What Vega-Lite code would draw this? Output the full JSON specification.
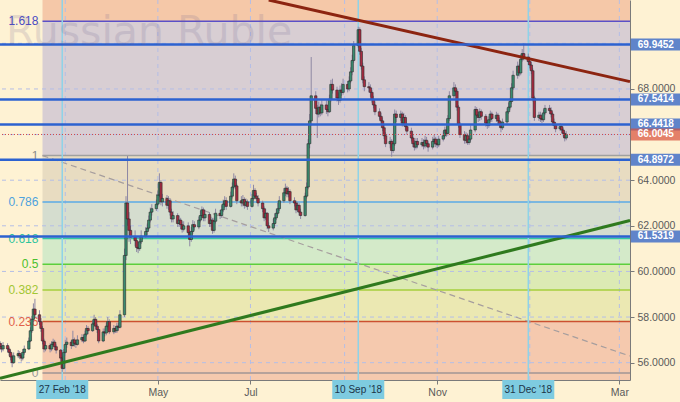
{
"$schema": "https://vega.github.io/schema/vega-lite/v6.json",
"width": 630, "height": 380,
"autosize": {"type": "none"},
"padding": {"left": 0, "top": 0, "right": 50, "bottom": 22},
"background": "#FEF2D3",
"config": {"view": {"stroke": null}, "font": "Liberation Sans", "axis": {"grid": false}},
"resolve": {"scale": {"color": "independent"}},
"datasets": {
"candles": [
{"d":"2018-01-17","o":56.85,"h":56.95,"l":56.55,"c":56.7},
{"d":"2018-01-18","o":56.7,"h":56.85,"l":56.45,"c":56.6},
{"d":"2018-01-19","o":56.6,"h":56.9,"l":56.5,"c":56.75},
{"d":"2018-01-22","o":56.75,"h":56.85,"l":56.45,"c":56.6},
{"d":"2018-01-23","o":56.6,"h":56.7,"l":56.3,"c":56.45},
{"d":"2018-01-24","o":56.45,"h":56.55,"l":56.1,"c":56.25},
{"d":"2018-01-25","o":56.25,"h":56.35,"l":55.8,"c":56.0},
{"d":"2018-01-26","o":56.0,"h":56.45,"l":55.95,"c":56.3},
{"d":"2018-01-29","o":56.3,"h":56.55,"l":56.2,"c":56.4},
{"d":"2018-01-30","o":56.4,"h":56.5,"l":56.15,"c":56.3},
{"d":"2018-01-31","o":56.3,"h":56.4,"l":56.05,"c":56.2},
{"d":"2018-02-01","o":56.2,"h":56.6,"l":56.1,"c":56.45},
{"d":"2018-02-02","o":56.45,"h":56.75,"l":56.35,"c":56.6},
{"d":"2018-02-05","o":56.6,"h":57.1,"l":56.55,"c":56.95},
{"d":"2018-02-06","o":56.95,"h":57.55,"l":56.9,"c":57.4},
{"d":"2018-02-07","o":57.4,"h":58.05,"l":57.3,"c":57.9},
{"d":"2018-02-08","o":57.9,"h":58.6,"l":57.8,"c":58.35},
{"d":"2018-02-09","o":58.35,"h":58.8,"l":57.95,"c":58.1},
{"d":"2018-02-12","o":58.1,"h":58.3,"l":57.65,"c":57.8},
{"d":"2018-02-13","o":57.8,"h":57.95,"l":57.35,"c":57.5},
{"d":"2018-02-14","o":57.5,"h":57.6,"l":56.8,"c":56.95},
{"d":"2018-02-15","o":56.95,"h":57.05,"l":56.45,"c":56.6},
{"d":"2018-02-16","o":56.6,"h":56.9,"l":56.5,"c":56.75},
{"d":"2018-02-19","o":56.75,"h":56.85,"l":56.45,"c":56.6},
{"d":"2018-02-20","o":56.6,"h":56.95,"l":56.5,"c":56.8},
{"d":"2018-02-21","o":56.8,"h":57.05,"l":56.7,"c":56.9},
{"d":"2018-02-22","o":56.9,"h":57.0,"l":56.55,"c":56.7},
{"d":"2018-02-23","o":56.7,"h":56.8,"l":56.4,"c":56.55},
{"d":"2018-02-26","o":56.55,"h":56.6,"l":56.05,"c":56.2},
{"d":"2018-02-27","o":56.2,"h":56.3,"l":55.6,"c":55.75},
{"d":"2018-02-28","o":55.75,"h":56.6,"l":55.7,"c":56.45},
{"d":"2018-03-01","o":56.45,"h":57.0,"l":56.4,"c":56.8},
{"d":"2018-03-02","o":56.8,"h":57.1,"l":56.65,"c":56.9},
{"d":"2018-03-05","o":56.9,"h":57.0,"l":56.6,"c":56.75},
{"d":"2018-03-06","o":56.75,"h":57.4,"l":56.7,"c":57.0},
{"d":"2018-03-07","o":57.0,"h":57.1,"l":56.7,"c":56.85},
{"d":"2018-03-08","o":56.85,"h":57.0,"l":56.65,"c":56.8},
{"d":"2018-03-09","o":56.8,"h":57.2,"l":56.75,"c":57.0},
{"d":"2018-03-12","o":57.0,"h":57.25,"l":56.9,"c":57.1},
{"d":"2018-03-13","o":57.1,"h":57.2,"l":56.85,"c":56.95},
{"d":"2018-03-14","o":56.95,"h":57.4,"l":56.9,"c":57.25},
{"d":"2018-03-15","o":57.25,"h":57.65,"l":57.15,"c":57.5},
{"d":"2018-03-16","o":57.5,"h":57.6,"l":57.25,"c":57.4},
{"d":"2018-03-19","o":57.4,"h":57.85,"l":57.35,"c":57.7},
{"d":"2018-03-20","o":57.7,"h":58.1,"l":57.6,"c":57.9},
{"d":"2018-03-21","o":57.9,"h":58.0,"l":57.45,"c":57.6},
{"d":"2018-03-22","o":57.6,"h":57.7,"l":57.3,"c":57.45},
{"d":"2018-03-23","o":57.45,"h":57.55,"l":56.85,"c":56.95},
{"d":"2018-03-26","o":56.95,"h":57.5,"l":56.9,"c":57.35},
{"d":"2018-03-27","o":57.35,"h":57.5,"l":57.15,"c":57.3},
{"d":"2018-03-28","o":57.3,"h":57.75,"l":57.2,"c":57.6},
{"d":"2018-03-29","o":57.6,"h":58.0,"l":57.5,"c":57.8},
{"d":"2018-03-30","o":57.8,"h":57.9,"l":57.25,"c":57.35},
{"d":"2018-04-02","o":57.35,"h":57.65,"l":57.25,"c":57.5},
{"d":"2018-04-03","o":57.5,"h":57.6,"l":57.3,"c":57.4},
{"d":"2018-04-04","o":57.4,"h":57.75,"l":57.3,"c":57.6},
{"d":"2018-04-05","o":57.6,"h":57.75,"l":57.4,"c":57.55},
{"d":"2018-04-06","o":57.55,"h":58.3,"l":57.5,"c":58.1},
{"d":"2018-04-09","o":58.1,"h":61.0,"l":58.0,"c":60.7},
{"d":"2018-04-10","o":60.7,"h":63.3,"l":60.5,"c":63.0},
{"d":"2018-04-11","o":63.0,"h":65.06,"l":62.0,"c":62.3},
{"d":"2018-04-12","o":62.3,"h":62.6,"l":61.3,"c":61.8},
{"d":"2018-04-13","o":61.8,"h":62.0,"l":61.2,"c":61.5},
{"d":"2018-04-16","o":61.5,"h":61.8,"l":61.1,"c":61.35},
{"d":"2018-04-17","o":61.35,"h":61.5,"l":60.85,"c":61.05},
{"d":"2018-04-18","o":61.05,"h":61.3,"l":60.8,"c":61.0},
{"d":"2018-04-19","o":61.0,"h":61.55,"l":60.9,"c":61.3},
{"d":"2018-04-20","o":61.3,"h":61.8,"l":61.2,"c":61.55},
{"d":"2018-04-23","o":61.55,"h":61.95,"l":61.45,"c":61.75},
{"d":"2018-04-24","o":61.75,"h":62.1,"l":61.6,"c":61.9},
{"d":"2018-04-25","o":61.9,"h":62.45,"l":61.8,"c":62.25},
{"d":"2018-04-26","o":62.25,"h":62.8,"l":62.15,"c":62.6},
{"d":"2018-04-27","o":62.6,"h":62.95,"l":62.45,"c":62.75},
{"d":"2018-04-30","o":62.75,"h":63.15,"l":62.65,"c":62.95},
{"d":"2018-05-01","o":62.95,"h":63.55,"l":62.85,"c":63.35},
{"d":"2018-05-02","o":63.35,"h":64.3,"l":63.25,"c":63.9},
{"d":"2018-05-03","o":63.9,"h":64.0,"l":62.9,"c":63.05},
{"d":"2018-05-04","o":63.05,"h":63.4,"l":62.85,"c":63.2},
{"d":"2018-05-07","o":63.2,"h":63.35,"l":62.75,"c":62.9},
{"d":"2018-05-08","o":62.9,"h":63.3,"l":62.7,"c":63.1},
{"d":"2018-05-09","o":63.1,"h":63.2,"l":62.45,"c":62.6},
{"d":"2018-05-10","o":62.6,"h":62.75,"l":62.15,"c":62.3},
{"d":"2018-05-11","o":62.3,"h":62.65,"l":62.15,"c":62.45},
{"d":"2018-05-14","o":62.45,"h":62.55,"l":61.95,"c":62.1},
{"d":"2018-05-15","o":62.1,"h":62.45,"l":61.95,"c":62.25},
{"d":"2018-05-16","o":62.25,"h":62.35,"l":61.85,"c":62.05},
{"d":"2018-05-17","o":62.05,"h":62.2,"l":61.7,"c":61.85},
{"d":"2018-05-18","o":61.85,"h":62.2,"l":61.75,"c":62.0},
{"d":"2018-05-21","o":62.0,"h":62.15,"l":61.55,"c":61.7},
{"d":"2018-05-22","o":61.7,"h":61.8,"l":61.1,"c":61.4},
{"d":"2018-05-23","o":61.4,"h":61.95,"l":61.3,"c":61.75},
{"d":"2018-05-24","o":61.75,"h":62.25,"l":61.65,"c":62.05},
{"d":"2018-05-25","o":62.05,"h":62.2,"l":61.8,"c":61.95},
{"d":"2018-05-28","o":61.95,"h":62.4,"l":61.85,"c":62.25},
{"d":"2018-05-29","o":62.25,"h":62.65,"l":62.15,"c":62.45},
{"d":"2018-05-30","o":62.45,"h":62.85,"l":62.35,"c":62.7},
{"d":"2018-05-31","o":62.7,"h":62.8,"l":62.2,"c":62.35},
{"d":"2018-06-01","o":62.35,"h":62.7,"l":62.2,"c":62.5},
{"d":"2018-06-04","o":62.5,"h":62.6,"l":61.95,"c":62.1},
{"d":"2018-06-05","o":62.1,"h":62.4,"l":61.95,"c":62.25},
{"d":"2018-06-06","o":62.25,"h":62.35,"l":61.65,"c":61.8},
{"d":"2018-06-07","o":61.8,"h":62.35,"l":61.7,"c":62.2},
{"d":"2018-06-08","o":62.2,"h":62.75,"l":62.1,"c":62.55},
{"d":"2018-06-11","o":62.55,"h":62.7,"l":62.3,"c":62.45},
{"d":"2018-06-12","o":62.45,"h":62.9,"l":62.35,"c":62.7},
{"d":"2018-06-13","o":62.7,"h":63.15,"l":62.6,"c":62.95},
{"d":"2018-06-14","o":62.95,"h":63.3,"l":62.8,"c":63.1},
{"d":"2018-06-15","o":63.1,"h":63.25,"l":62.7,"c":62.85},
{"d":"2018-06-18","o":62.85,"h":63.5,"l":62.8,"c":63.3},
{"d":"2018-06-19","o":63.3,"h":63.9,"l":63.2,"c":63.7},
{"d":"2018-06-20","o":63.7,"h":64.3,"l":63.6,"c":64.05},
{"d":"2018-06-21","o":64.05,"h":64.2,"l":63.6,"c":63.75},
{"d":"2018-06-22","o":63.75,"h":63.85,"l":62.95,"c":63.1},
{"d":"2018-06-25","o":63.1,"h":63.3,"l":62.85,"c":63.0},
{"d":"2018-06-26","o":63.0,"h":63.35,"l":62.85,"c":63.15},
{"d":"2018-06-27","o":63.15,"h":63.25,"l":62.75,"c":62.9},
{"d":"2018-06-28","o":62.9,"h":63.2,"l":62.8,"c":63.05},
{"d":"2018-06-29","o":63.05,"h":63.15,"l":62.7,"c":62.85},
{"d":"2018-07-02","o":62.85,"h":63.4,"l":62.8,"c":63.2},
{"d":"2018-07-03","o":63.2,"h":63.8,"l":63.1,"c":63.55},
{"d":"2018-07-04","o":63.55,"h":63.65,"l":63.15,"c":63.3},
{"d":"2018-07-05","o":63.3,"h":63.45,"l":63.05,"c":63.2},
{"d":"2018-07-06","o":63.2,"h":63.35,"l":62.85,"c":63.0},
{"d":"2018-07-09","o":63.0,"h":63.1,"l":62.6,"c":62.75},
{"d":"2018-07-10","o":62.75,"h":62.85,"l":62.2,"c":62.35},
{"d":"2018-07-11","o":62.35,"h":62.75,"l":62.25,"c":62.55},
{"d":"2018-07-12","o":62.55,"h":62.6,"l":61.85,"c":62.0},
{"d":"2018-07-13","o":62.0,"h":62.15,"l":61.73,"c":61.9},
{"d":"2018-07-16","o":61.9,"h":62.3,"l":61.8,"c":62.1},
{"d":"2018-07-17","o":62.1,"h":62.55,"l":62.0,"c":62.35},
{"d":"2018-07-18","o":62.35,"h":62.75,"l":62.25,"c":62.55},
{"d":"2018-07-19","o":62.55,"h":63.0,"l":62.45,"c":62.75},
{"d":"2018-07-20","o":62.75,"h":63.3,"l":62.65,"c":63.1},
{"d":"2018-07-23","o":63.1,"h":63.65,"l":63.0,"c":63.45},
{"d":"2018-07-24","o":63.45,"h":63.85,"l":63.3,"c":63.65},
{"d":"2018-07-25","o":63.65,"h":63.75,"l":63.25,"c":63.4},
{"d":"2018-07-26","o":63.4,"h":63.7,"l":63.25,"c":63.5},
{"d":"2018-07-27","o":63.5,"h":63.6,"l":62.95,"c":63.1},
{"d":"2018-07-30","o":63.1,"h":63.25,"l":62.85,"c":63.0},
{"d":"2018-07-31","o":63.0,"h":63.1,"l":62.55,"c":62.7},
{"d":"2018-08-01","o":62.7,"h":63.05,"l":62.6,"c":62.9},
{"d":"2018-08-02","o":62.9,"h":63.0,"l":62.45,"c":62.6},
{"d":"2018-08-03","o":62.6,"h":62.75,"l":62.3,"c":62.45},
{"d":"2018-08-06","o":62.45,"h":63.45,"l":62.4,"c":63.3},
{"d":"2018-08-07","o":63.3,"h":63.9,"l":63.2,"c":63.7},
{"d":"2018-08-08","o":63.7,"h":65.8,"l":63.6,"c":65.6},
{"d":"2018-08-09","o":65.6,"h":66.9,"l":65.4,"c":66.6},
{"d":"2018-08-10","o":66.6,"h":69.4,"l":66.4,"c":67.7},
{"d":"2018-08-13","o":67.7,"h":67.9,"l":66.9,"c":67.15},
{"d":"2018-08-14","o":67.15,"h":67.3,"l":65.85,"c":66.9},
{"d":"2018-08-15","o":66.9,"h":67.45,"l":66.75,"c":67.2},
{"d":"2018-08-16","o":67.2,"h":67.35,"l":66.8,"c":66.95},
{"d":"2018-08-17","o":66.95,"h":67.5,"l":66.85,"c":67.3},
{"d":"2018-08-20","o":67.3,"h":67.5,"l":66.9,"c":67.1},
{"d":"2018-08-21","o":67.1,"h":67.3,"l":66.8,"c":67.0},
{"d":"2018-08-22","o":67.0,"h":67.75,"l":66.95,"c":67.55},
{"d":"2018-08-23","o":67.55,"h":68.4,"l":67.45,"c":68.2},
{"d":"2018-08-24","o":68.2,"h":68.45,"l":67.8,"c":67.95},
{"d":"2018-08-27","o":67.95,"h":68.1,"l":67.45,"c":67.6},
{"d":"2018-08-28","o":67.6,"h":67.85,"l":67.3,"c":67.5},
{"d":"2018-08-29","o":67.5,"h":68.15,"l":67.4,"c":67.95},
{"d":"2018-08-30","o":67.95,"h":68.25,"l":67.7,"c":67.85},
{"d":"2018-08-31","o":67.85,"h":68.45,"l":67.75,"c":68.2},
{"d":"2018-09-03","o":68.2,"h":68.35,"l":67.85,"c":68.0},
{"d":"2018-09-04","o":68.0,"h":68.55,"l":67.9,"c":68.35},
{"d":"2018-09-05","o":68.35,"h":68.95,"l":68.25,"c":68.75},
{"d":"2018-09-06","o":68.75,"h":69.5,"l":68.6,"c":69.25},
{"d":"2018-09-07","o":69.25,"h":70.1,"l":69.15,"c":69.9},
{"d":"2018-09-10","o":69.9,"h":70.73,"l":69.8,"c":70.6},
{"d":"2018-09-11","o":70.6,"h":70.7,"l":69.5,"c":69.65},
{"d":"2018-09-12","o":69.65,"h":69.8,"l":68.85,"c":69.0},
{"d":"2018-09-13","o":69.0,"h":69.15,"l":68.25,"c":68.4},
{"d":"2018-09-14","o":68.4,"h":68.55,"l":67.9,"c":68.1},
{"d":"2018-09-17","o":68.1,"h":68.3,"l":67.85,"c":68.05},
{"d":"2018-09-18","o":68.05,"h":68.2,"l":67.65,"c":67.85},
{"d":"2018-09-19","o":67.85,"h":67.95,"l":67.4,"c":67.55},
{"d":"2018-09-20","o":67.55,"h":67.7,"l":67.15,"c":67.3},
{"d":"2018-09-21","o":67.3,"h":67.45,"l":66.85,"c":67.0},
{"d":"2018-09-24","o":67.0,"h":67.15,"l":66.65,"c":66.8},
{"d":"2018-09-25","o":66.8,"h":66.95,"l":66.45,"c":66.6},
{"d":"2018-09-26","o":66.6,"h":66.75,"l":66.15,"c":66.3},
{"d":"2018-09-27","o":66.3,"h":66.45,"l":65.8,"c":65.95},
{"d":"2018-09-28","o":65.95,"h":66.1,"l":65.45,"c":65.6},
{"d":"2018-10-01","o":65.6,"h":65.9,"l":65.4,"c":65.7},
{"d":"2018-10-02","o":65.7,"h":65.8,"l":65.03,"c":65.3},
{"d":"2018-10-03","o":65.3,"h":65.75,"l":65.2,"c":65.6},
{"d":"2018-10-04","o":65.6,"h":67.1,"l":65.5,"c":66.9},
{"d":"2018-10-05","o":66.9,"h":67.05,"l":66.55,"c":66.75},
{"d":"2018-10-08","o":66.75,"h":67.05,"l":66.6,"c":66.9},
{"d":"2018-10-09","o":66.9,"h":67.0,"l":66.35,"c":66.5},
{"d":"2018-10-10","o":66.5,"h":66.95,"l":66.4,"c":66.75},
{"d":"2018-10-11","o":66.75,"h":66.85,"l":66.2,"c":66.35},
{"d":"2018-10-12","o":66.35,"h":66.5,"l":66.0,"c":66.15},
{"d":"2018-10-15","o":66.15,"h":66.3,"l":65.7,"c":65.85},
{"d":"2018-10-16","o":65.85,"h":66.0,"l":65.45,"c":65.6},
{"d":"2018-10-17","o":65.6,"h":65.75,"l":65.3,"c":65.45},
{"d":"2018-10-18","o":65.45,"h":65.85,"l":65.35,"c":65.7},
{"d":"2018-10-19","o":65.7,"h":65.85,"l":65.4,"c":65.55},
{"d":"2018-10-22","o":65.55,"h":65.85,"l":65.45,"c":65.65},
{"d":"2018-10-23","o":65.65,"h":65.8,"l":65.35,"c":65.5},
{"d":"2018-10-24","o":65.5,"h":65.95,"l":65.4,"c":65.75},
{"d":"2018-10-25","o":65.75,"h":65.9,"l":65.45,"c":65.6},
{"d":"2018-10-26","o":65.6,"h":65.7,"l":65.25,"c":65.45},
{"d":"2018-10-29","o":65.45,"h":65.9,"l":65.35,"c":65.7},
{"d":"2018-10-30","o":65.7,"h":66.0,"l":65.55,"c":65.8},
{"d":"2018-10-31","o":65.8,"h":65.9,"l":65.45,"c":65.6},
{"d":"2018-11-01","o":65.6,"h":65.75,"l":65.4,"c":65.55},
{"d":"2018-11-02","o":65.55,"h":65.95,"l":65.45,"c":65.8},
{"d":"2018-11-05","o":65.8,"h":66.15,"l":65.7,"c":65.95},
{"d":"2018-11-06","o":65.95,"h":66.35,"l":65.85,"c":66.2},
{"d":"2018-11-07","o":66.2,"h":66.35,"l":65.9,"c":66.05},
{"d":"2018-11-08","o":66.05,"h":66.85,"l":65.95,"c":66.7},
{"d":"2018-11-09","o":66.7,"h":67.9,"l":66.6,"c":67.7},
{"d":"2018-11-12","o":67.7,"h":68.3,"l":67.6,"c":68.05},
{"d":"2018-11-13","o":68.05,"h":68.2,"l":67.7,"c":67.9},
{"d":"2018-11-14","o":67.9,"h":68.0,"l":67.05,"c":67.2},
{"d":"2018-11-15","o":67.2,"h":67.3,"l":66.3,"c":66.45},
{"d":"2018-11-16","o":66.45,"h":66.55,"l":65.85,"c":66.0},
{"d":"2018-11-19","o":66.0,"h":66.15,"l":65.6,"c":65.75},
{"d":"2018-11-20","o":65.75,"h":66.1,"l":65.6,"c":65.95},
{"d":"2018-11-21","o":65.95,"h":66.05,"l":65.55,"c":65.65},
{"d":"2018-11-22","o":65.65,"h":65.95,"l":65.55,"c":65.8},
{"d":"2018-11-23","o":65.8,"h":66.4,"l":65.7,"c":66.2},
{"d":"2018-11-26","o":66.2,"h":67.25,"l":66.1,"c":67.1},
{"d":"2018-11-27","o":67.1,"h":67.2,"l":66.7,"c":66.85},
{"d":"2018-11-28","o":66.85,"h":67.0,"l":66.55,"c":66.75},
{"d":"2018-11-29","o":66.75,"h":67.15,"l":66.6,"c":67.0},
{"d":"2018-11-30","o":67.0,"h":67.1,"l":66.65,"c":66.8},
{"d":"2018-12-03","o":66.8,"h":66.9,"l":66.35,"c":66.5},
{"d":"2018-12-04","o":66.5,"h":66.65,"l":66.25,"c":66.4},
{"d":"2018-12-05","o":66.4,"h":66.8,"l":66.3,"c":66.65},
{"d":"2018-12-06","o":66.65,"h":67.05,"l":66.55,"c":66.9},
{"d":"2018-12-07","o":66.9,"h":67.0,"l":66.55,"c":66.7},
{"d":"2018-12-10","o":66.7,"h":67.0,"l":66.55,"c":66.85},
{"d":"2018-12-11","o":66.85,"h":66.95,"l":66.45,"c":66.6},
{"d":"2018-12-12","o":66.6,"h":66.75,"l":66.3,"c":66.45},
{"d":"2018-12-13","o":66.45,"h":66.6,"l":66.1,"c":66.3},
{"d":"2018-12-14","o":66.3,"h":66.7,"l":66.2,"c":66.55},
{"d":"2018-12-17","o":66.55,"h":67.15,"l":66.45,"c":67.0},
{"d":"2018-12-18","o":67.0,"h":67.4,"l":66.9,"c":67.2},
{"d":"2018-12-19","o":67.2,"h":67.6,"l":67.1,"c":67.45},
{"d":"2018-12-20","o":67.45,"h":68.25,"l":67.35,"c":68.05},
{"d":"2018-12-21","o":68.05,"h":68.8,"l":67.95,"c":68.6},
{"d":"2018-12-24","o":68.6,"h":69.2,"l":68.45,"c":69.0},
{"d":"2018-12-25","o":69.0,"h":69.1,"l":68.55,"c":68.7},
{"d":"2018-12-26","o":68.7,"h":69.5,"l":68.6,"c":69.3},
{"d":"2018-12-27","o":69.3,"h":69.75,"l":69.2,"c":69.55},
{"d":"2018-12-28","o":69.55,"h":70.0,"l":69.25,"c":69.4},
{"d":"2018-12-31","o":69.4,"h":69.55,"l":69.05,"c":69.2},
{"d":"2019-01-01","o":69.2,"h":69.3,"l":68.9,"c":69.05},
{"d":"2019-01-02","o":69.05,"h":69.2,"l":68.65,"c":68.8},
{"d":"2019-01-03","o":68.8,"h":68.9,"l":67.45,"c":67.6},
{"d":"2019-01-04","o":67.6,"h":67.7,"l":66.6,"c":66.75},
{"d":"2019-01-07","o":66.75,"h":67.0,"l":66.6,"c":66.85},
{"d":"2019-01-08","o":66.85,"h":67.0,"l":66.55,"c":66.7},
{"d":"2019-01-09","o":66.7,"h":66.9,"l":66.5,"c":66.65},
{"d":"2019-01-10","o":66.65,"h":67.1,"l":66.55,"c":66.95},
{"d":"2019-01-11","o":66.95,"h":67.3,"l":66.85,"c":67.15},
{"d":"2019-01-14","o":67.15,"h":67.3,"l":66.9,"c":67.05},
{"d":"2019-01-15","o":67.05,"h":67.2,"l":66.75,"c":66.9},
{"d":"2019-01-16","o":66.9,"h":67.0,"l":66.4,"c":66.55},
{"d":"2019-01-17","o":66.55,"h":66.7,"l":66.25,"c":66.4},
{"d":"2019-01-18","o":66.4,"h":66.55,"l":66.1,"c":66.25},
{"d":"2019-01-21","o":66.25,"h":66.5,"l":66.15,"c":66.35},
{"d":"2019-01-22","o":66.35,"h":66.45,"l":66.05,"c":66.2},
{"d":"2019-01-23","o":66.2,"h":66.3,"l":65.9,"c":66.05},
{"d":"2019-01-24","o":66.05,"h":66.15,"l":65.7,"c":65.85},
{"d":"2019-01-25","o":65.85,"h":66.15,"l":65.75,"c":66.0045}
],
"zones": [
{"z":"e","lo":70.97,"hi":71.9},
{"z":"d","lo":65.08,"hi":70.97},
{"z":"c7","lo":63.04,"hi":65.08},
{"z":"c6","lo":61.44,"hi":63.04},
{"z":"c5","lo":60.315,"hi":61.44},
{"z":"c3","lo":59.19,"hi":60.315},
{"z":"c2","lo":57.8,"hi":59.19},
{"z":"c0","lo":55.55,"hi":57.8},
{"z":"b","lo":55.24,"hi":55.55}
],
"levels": [
{"lv":"1.618","v":70.97},
{"lv":"1","v":65.08},
{"lv":"0.786","v":63.04},
{"lv":"0.618","v":61.44},
{"lv":"0.5","v":60.315},
{"lv":"0.382","v":59.19},
{"lv":"0.236","v":57.8},
{"lv":"0","v":55.55}
],
"marks": [
{"v":69.9452,"k":"b"},
{"v":67.5414,"k":"b"},
{"v":66.4418,"k":"b"},
{"v":64.8972,"k":"b"},
{"v":61.5319,"k":"b"},
{"v":66.0045,"k":"r"}
],
"dates": [
{"d":"2018-02-27","lab":"27 Feb '18"},
{"d":"2018-09-10","lab":"10 Sep '18"},
{"d":"2018-12-31","lab":"31 Dec '18"}
],
"gridx": [
{"d":"2018-03-01"},{"d":"2018-05-01"},{"d":"2018-07-01"},{"d":"2018-09-01"},{"d":"2018-11-01"},{"d":"2019-01-01"},{"d":"2019-03-01"}
],
"gridy": [{"v":56},{"v":58},{"v":60},{"v":62},{"v":64},{"v":66},{"v":68},{"v":70}],
"trends": [
{"t":"res","d":"2018-07-13","v":71.9},
{"t":"res","d":"2019-03-08","v":68.32},
{"t":"sup","d":"2018-01-17","v":55.32},
{"t":"sup","d":"2019-03-08","v":62.23}
],
"diag": [
{"d":"2018-02-14","v":65.08},
{"d":"2019-03-08","v":56.29}
]
},
"layer": [
{
"data": {"name": "zones"},
"mark": {"type": "rect"},
"encoding": {
"x": {"datum": {"year": 2018, "month": "feb", "date": 14, "utc": true}, "type": "temporal",
 "scale": {"type": "utc", "padding": 0, "domain": [{"year": 2018, "month": "jan", "date": 17, "utc": true}, {"year": 2019, "month": "mar", "date": 8, "utc": true}]},
 "axis": {"values": [
  {"year": 2018, "month": "may", "date": 1, "utc": true},
  {"year": 2018, "month": "jul", "date": 1, "utc": true},
  {"year": 2018, "month": "nov", "date": 1, "utc": true},
  {"year": 2019, "month": "mar", "date": 1, "utc": true}],
  "format": "%b", "title": null, "grid": false, "domainColor": "#7a7a7a", "tickColor": "#7a7a7a", "tickSize": 4,
  "labelColor": "#5a5a5a", "labelFontSize": 10.5, "labelFont": "Liberation Sans", "labelPadding": 3}},
"x2": {"datum": {"year": 2019, "month": "mar", "date": 8, "utc": true}},
"y": {"field": "lo", "type": "quantitative",
 "scale": {"domain": [55.24, 71.9], "nice": false, "zero": false, "padding": 0},
 "axis": {"orient": "right", "values": [56, 58, 60, 62, 64, 68], "format": ".4f", "title": null, "grid": false,
  "domainColor": "#7a7a7a", "tickColor": "#7a7a7a", "tickSize": 4, "labelColor": "#5a5a5a", "labelFontSize": 10.5, "labelFont": "Liberation Sans", "labelPadding": 3}},
"y2": {"field": "hi"},
"color": {"field": "z", "type": "nominal", "legend": null,
 "scale": {"domain": ["e","d","c7","c6","c5","c3","c2","c0","b"],
  "range": ["#F5C8A8","#D8CED3","#E8DCC1","#D5DDCF","#D4EAC9","#DCEAB4","#EBE8B2","#F5C9AE","#F5C9AE"]}}
}
},
{
"data": {"name": "gridx"},
"mark": {"type": "rule", "strokeDash": [4, 4], "color": "#B4BEE6", "strokeWidth": 1},
"encoding": {"x": {"field": "d", "type": "temporal", "axis": {"title": null}}}
},
{
"data": {"name": "gridy"},
"mark": {"type": "rule", "strokeDash": [4, 4], "color": "#B4BEE6", "strokeWidth": 1},
"encoding": {"y": {"field": "v", "type": "quantitative", "axis": {"title": null}}}
},
{
"data": {"name": "levels"},
"mark": {"type": "rule", "strokeWidth": 1.5},
"encoding": {
"x": {"datum": {"year": 2018, "month": "feb", "date": 14, "utc": true}, "type": "temporal", "axis": {"title": null}},
"x2": {"datum": {"year": 2019, "month": "mar", "date": 8, "utc": true}},
"y": {"field": "v", "type": "quantitative", "axis": {"title": null}},
"color": {"field": "lv", "type": "nominal", "legend": null,
 "scale": {"domain": ["1.618","1","0.786","0.618","0.5","0.382","0.236","0"],
  "range": ["#5A50C8","#A0A0A0","#5AAAE6","#34C8A4","#5CCF3C","#A6CF3C","#CC5030","#A09494"]}}
}
},
{
"data": {"name": "levels"},
"mark": {"type": "text", "align": "right", "baseline": "middle", "fontSize": 12, "font": "Liberation Sans", "dx": -1},
"encoding": {
"x": {"datum": {"year": 2018, "month": "feb", "date": 12, "utc": true}, "type": "temporal", "axis": {"title": null}},
"y": {"field": "v", "type": "quantitative", "axis": {"title": null}},
"text": {"field": "lv"},
"color": {"field": "lv", "type": "nominal", "legend": null,
 "scale": {"domain": ["1.618","1","0.786","0.618","0.5","0.382","0.236","0"],
  "range": ["#4A4AC4","#8A8A8A","#4EA2DE","#2EC49C","#4CC02E","#A2C634","#E2604A","#9A9A9A"]}}
}
},
{
"data": {"name": "diag"},
"mark": {"type": "line", "strokeDash": [6, 4], "color": "#A69E9E", "strokeWidth": 1.2},
"encoding": {
"x": {"field": "d", "type": "temporal", "axis": {"title": null}},
"y": {"field": "v", "type": "quantitative", "axis": {"title": null}}
}
},
{
"data": {"name": "dates"},
"mark": {"type": "rule", "color": "#8ED3E8", "strokeWidth": 1.5},
"encoding": {"x": {"field": "d", "type": "temporal", "axis": {"title": null}}}
},
{
"data": {"name": "candles"},
"mark": {"type": "rule", "color": "#8E88A4", "strokeWidth": 1},
"encoding": {
"x": {"field": "d", "type": "temporal", "axis": {"title": null}},
"y": {"field": "l", "type": "quantitative", "axis": {"title": null}},
"y2": {"field": "h"}
}
},
{
"data": {"name": "candles"},
"mark": {"type": "bar", "size": 2.4, "stroke": "#2a2a2a", "strokeWidth": 0.6},
"encoding": {
"x": {"field": "d", "type": "temporal", "axis": {"title": null}},
"y": {"field": "o", "type": "quantitative", "axis": {"title": null}},
"y2": {"field": "c"},
"color": {"condition": {"test": "datum.c >= datum.o", "value": "#3A8C70"}, "value": "#A82A40"}
}
},
{
"data": {"name": "trends"},
"mark": {"type": "line", "strokeWidth": 3},
"encoding": {
"x": {"field": "d", "type": "temporal", "axis": {"title": null}},
"y": {"field": "v", "type": "quantitative", "axis": {"title": null}},
"color": {"field": "t", "type": "nominal", "legend": null, "scale": {"domain": ["res","sup"], "range": ["#8C2410","#2F7A1E"]}}
}
},
{
"data": {"name": "marks"},
"transform": [{"filter": "datum.k == 'b'"}],
"mark": {"type": "rule", "color": "#2C62D0", "strokeWidth": 2.5},
"encoding": {"y": {"field": "v", "type": "quantitative", "axis": {"title": null}}}
},
{
"data": {"name": "marks"},
"transform": [{"filter": "datum.k == 'r'"}],
"mark": {"type": "rule", "color": "#D04848", "strokeWidth": 1, "strokeDash": [1, 2]},
"encoding": {"y": {"field": "v", "type": "quantitative", "axis": {"title": null}}}
},
{
"data": {"values": [{"t": "Russian Ruble"}]},
"mark": {"type": "text", "align": "left", "baseline": "alphabetic", "fontSize": 41, "font": "DejaVu Sans", "color": "#6E6090", "opacity": 0.17},
"encoding": {
"x": {"datum": {"year": 2018, "month": "jan", "date": 21, "utc": true}, "type": "temporal", "axis": {"title": null}},
"y": {"datum": 69.93, "type": "quantitative", "axis": {"title": null}},
"text": {"field": "t"}
}
},
{
"data": {"name": "marks"},
"mark": {"type": "tick", "orient": "horizontal", "thickness": 12, "clip": false},
"encoding": {
"x": {"datum": {"year": 2019, "month": "mar", "date": 25, "utc": true}, "type": "temporal", "axis": {"title": null}},
"y": {"field": "v", "type": "quantitative", "axis": {"title": null}},
"yOffset": {"condition": {"test": "datum.k == 'r'", "value": 3}, "value": 0},
"size": {"value": 50},
"color": {"field": "k", "type": "nominal", "legend": null, "scale": {"domain": ["b","r"], "range": ["#1C55C6","#D8503C"]}}
}
},
{
"data": {"name": "marks"},
"mark": {"type": "text", "align": "center", "baseline": "middle", "fontSize": 10, "fontWeight": "bold", "font": "Liberation Sans", "color": "#FFFFFF", "clip": false},
"encoding": {
"x": {"datum": {"year": 2019, "month": "mar", "date": 25, "utc": true}, "type": "temporal", "axis": {"title": null}},
"y": {"field": "v", "type": "quantitative", "axis": {"title": null}},
"yOffset": {"condition": {"test": "datum.k == 'r'", "value": 3}, "value": 0},
"text": {"field": "v", "type": "quantitative", "format": ".4f"}
}
},
{
"data": {"name": "dates"},
"mark": {"type": "tick", "orient": "horizontal", "thickness": 19, "color": "#7ECBE0", "opacity": 1, "clip": false},
"encoding": {
"x": {"field": "d", "type": "temporal", "axis": {"title": null}},
"y": {"datum": 54.82, "type": "quantitative", "axis": {"title": null}},
"size": {"value": 52}
}
},
{
"data": {"name": "dates"},
"mark": {"type": "text", "align": "center", "baseline": "middle", "fontSize": 10, "font": "Liberation Sans", "color": "#1C3448", "clip": false},
"encoding": {
"x": {"field": "d", "type": "temporal", "axis": {"title": null}},
"y": {"datum": 54.82, "type": "quantitative", "axis": {"title": null}},
"text": {"field": "lab"}
}
}
]
}
